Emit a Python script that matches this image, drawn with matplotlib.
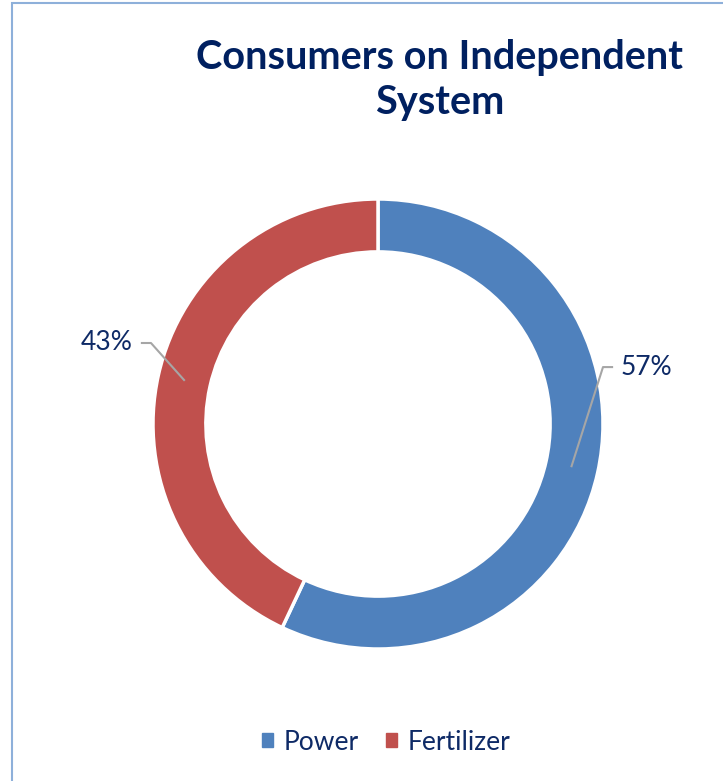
import numpy as np
import matplotlib.pyplot as plt
from matplotlib.patches import Rectangle

# Donnees
categories = ['Power', 'Fertilizer']
shares = [57, 43]
colors = ['#4F81BD', '#C0504D']
title = 'Consumers on Independent\nSystem'

navy = '#0E2A66'
plt.rcParams['font.family'] = ['Lato', 'DejaVu Sans']

W, H = 723, 781
fig = plt.figure(figsize=(W / 100, H / 100), dpi=100)

# cadre du graphique
fig.patches.append(Rectangle((12 / W, -0.05), 1.0, 1 - 3 / H + 0.05,
                             transform=fig.transFigure, fill=False,
                             edgecolor='#8EB0DA', linewidth=1.5))

# donut : centre (378, 424) px, rayon 225 px
cx, cy, R = 378, 424, 225
half = 260
ax = fig.add_axes([(cx - half) / W, (H - cy - half) / H, 2 * half / W, 2 * half / H])
wedges, _ = ax.pie(shares, colors=colors, startangle=90, counterclock=False,
                   radius=1.0, wedgeprops=dict(width=0.235, edgecolor='white', linewidth=2.5))
lim = half / R
ax.set_xlim(-lim, lim)
ax.set_ylim(-lim, lim)
ax.set_aspect('equal')
ax.axis('off')

# etiquettes avec lignes de rappel
knees = [(1.0, 0.253), (-1.009, 0.36)]
for w, val, (kx, ky) in zip(wedges, shares, knees):
    ang = np.deg2rad((w.theta1 + w.theta2) / 2)
    r = 0.88
    px, py = r * np.cos(ang), r * np.sin(ang)
    sgn = 1 if kx > 0 else -1
    ex = kx + sgn * 0.045
    ax.plot([px, kx, ex], [py, ky, ky], color='#A6A6A6', lw=1.5, solid_capstyle='butt')
    ax.text(ex + sgn * 0.035, ky, f'{val}%', ha='left' if sgn > 0 else 'right',
            va='center', fontsize=19, color=navy)

fig.text(440 / W, 1 - 80 / H, title, ha='center', va='center', fontsize=28.5,
         fontweight='bold', color='#002060', linespacing=1.25)

# legende
handles = [Rectangle((0, 0), 1, 1, color=c) for c in colors]
fig.legend(handles, categories, loc='center', bbox_to_anchor=(386 / W, 1 - 742 / H),
           ncol=2, frameon=False, fontsize=19, handlelength=0.4, handleheight=0.4,
           handletextpad=0.4, columnspacing=1.05, labelcolor=navy)

fig.savefig('out.png', dpi=100)
